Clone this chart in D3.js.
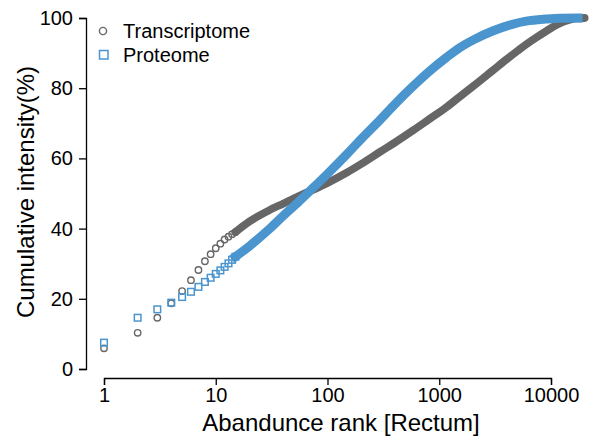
<!DOCTYPE html>
<html>
<head>
<meta charset="utf-8">
<script src="https://cdn.jsdelivr.net/npm/d3@7"></script>
<style>
  html, body { margin: 0; padding: 0; background: #fff; }
  svg { display: block; font-family: "Liberation Sans", Arial, Helvetica, sans-serif; }
</style>
</head>
<body>
<svg id="chart" width="594" height="436"></svg>
<script>
// Abundance rank (log scale) vs cumulative intensity, rectum tissue
const transcriptRanks = [1,2,3,4,5,6,7,8,9,10,11,12,13,14,15,20,30,40,55,70,100,150,200,300,400,585,800,1162,1500,2000,3000,4000,5000,6000,7500,9000,11000,13000,15000,17000,20000];
const transcriptValues = [5.9,10.3,14.6,18.7,22.2,25.3,28.2,30.7,32.7,34.4,35.7,36.9,37.7,38.4,39.0,42.0,45.2,47.1,49.2,50.7,53.0,56.0,58.4,62.0,64.5,68.0,71.0,74.6,77.4,80.5,85.0,88.2,90.6,92.5,94.6,96.2,97.9,99.0,99.6,99.9,100];

const proteinRanks = [1,2,3,4,5,6,7,8,9,10,11,12,13,14,15,20,30,40,55,70,100,150,200,300,400,585,800,1162,1500,2000,3000,4500,6000,9000,12000,17500];
const proteinValues = [7.5,14.6,17.0,18.9,20.5,22.0,23.4,24.8,26.0,27.1,28.1,29.1,30.1,31.1,32.0,35.0,39.8,43.6,47.6,50.8,55.6,61.3,65.5,71.2,75.4,80.6,84.6,88.8,91.4,93.7,96.3,98.2,99.1,99.7,99.95,100];

const xTickValues = [1, 10, 100, 1000, 10000];
const yTickValues = [0, 20, 40, 60, 80, 100];
const seriesNames = ["Transcriptome", "Proteome"];

const grey = "#666666";
const blue = "#4b95cf";

const svg = d3.select("#chart");

const x = d3.scaleLog().domain([1, 10000]).range([104, 551]);
const y = d3.scaleLinear().domain([0, 100]).range([369, 18]);

const transcript = transcriptRanks.map((r, i) => ({ r, v: transcriptValues[i] }));
const protein = proteinRanks.map((r, i) => ({ r, v: proteinValues[i] }));

// Axes, base-graphics style (detached, spanning only the tick range)
const xAxis = svg.append("g")
  .attr("transform", "translate(0,378)")
  .call(d3.axisBottom(x).tickValues(xTickValues).tickFormat(d3.format("d")).tickSizeOuter(0).tickSize(7).tickPadding(3));
const yAxis = svg.append("g")
  .attr("transform", "translate(86,0)")
  .call(d3.axisLeft(y).tickValues(yTickValues).tickSizeOuter(0).tickSize(7).tickPadding(6));

[xAxis, yAxis].forEach(g => {
  g.select(".domain").attr("stroke", "#000").attr("stroke-width", 1.3);
  g.selectAll(".tick line").attr("stroke", "#000").attr("stroke-width", 1.3);
  g.selectAll(".tick text").attr("fill", "#000").style("font-size", "20px")
    .style("font-family", '"Liberation Sans", Arial, sans-serif');
});

// Axis titles
svg.append("text")
  .attr("x", 341).attr("y", 431)
  .attr("text-anchor", "middle")
  .style("font-size", "24px")
  .text("Abandunce rank [Rectum]");
svg.append("text")
  .attr("transform", "translate(34,192) rotate(-90)")
  .attr("text-anchor", "middle")
  .style("font-size", "24px")
  .text("Cumulative intensity(%)");

// Dense ranks: points overlap into a continuous band
const line = d3.line().x(d => x(d.r)).y(d => y(d.v)).curve(d3.curveMonotoneX);

// Transcriptome
svg.append("path")
  .datum(transcript.filter(d => d.r >= 15))
  .attr("d", line)
  .attr("fill", "none").attr("stroke", grey)
  .attr("stroke-width", 7.8).attr("stroke-linecap", "round").attr("stroke-linejoin", "round");
svg.append("g").selectAll("circle")
  .data(transcript.filter(d => d.r <= 15))
  .join("circle")
  .attr("cx", d => x(d.r)).attr("cy", d => y(d.v)).attr("r", 3.2)
  .attr("fill", "none").attr("stroke", grey).attr("stroke-width", 1.4);

// Proteome
svg.append("path")
  .datum(protein.filter(d => d.r >= 15))
  .attr("d", line)
  .attr("fill", "none").attr("stroke", blue)
  .attr("stroke-width", 9).attr("stroke-linecap", "square").attr("stroke-linejoin", "round");
const sq = 6.6;
svg.append("g").selectAll("rect")
  .data(protein.filter(d => d.r <= 15))
  .join("rect")
  .attr("x", d => x(d.r) - sq / 2).attr("y", d => y(d.v) - sq / 2)
  .attr("width", sq).attr("height", sq)
  .attr("fill", "none").attr("stroke", blue).attr("stroke-width", 1.5);

// Legend
const legend = svg.append("g");
legend.append("circle").attr("cx", 103).attr("cy", 31).attr("r", 3.6)
  .attr("fill", "none").attr("stroke", grey).attr("stroke-width", 1.4);
legend.append("rect").attr("x", 99.5).attr("y", 50.5).attr("width", 8.5).attr("height", 8.5)
  .attr("fill", "none").attr("stroke", blue).attr("stroke-width", 1.5);
legend.selectAll("text.lg")
  .data(seriesNames)
  .join("text")
  .attr("class", "lg")
  .attr("x", 123).attr("y", (d, i) => 37.5 + i * 24.5)
  .style("font-size", "20px")
  .text(d => d);
</script>
</body>
</html>
